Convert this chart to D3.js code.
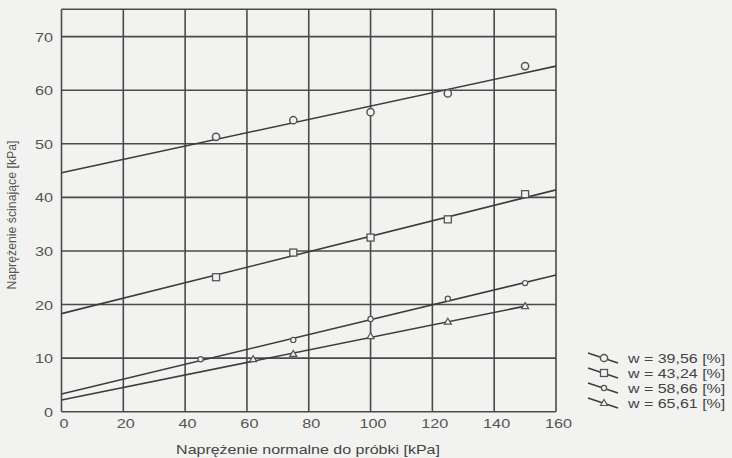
<!DOCTYPE html>
<html><head><meta charset="utf-8">
<script src="https://cdn.jsdelivr.net/npm/d3@7"></script>
<style>body{margin:0;background:#f2f2f0;}svg{display:block;}</style>
</head><body>
<svg id="c" width="732" height="458"></svg>
<script>
const xTicks = [0,20,40,60,80,100,120,140,160];
const yTicks = [0,10,20,30,40,50,60,70];
const seriesNames = ["w = 39,56 [%]","w = 43,24 [%]","w = 58,66 [%]","w = 65,61 [%]"];
const markers = ["circle","square","smallcircle","triangle"];
const s1x = [50,75,100,125,150], s1y = [51.3,54.4,55.9,59.4,64.5];
const s2x = [50,75,100,125,150], s2y = [25.1,29.7,32.5,35.9,40.6];
const s3x = [45,75,100,125,150], s3y = [9.8,13.4,17.3,21.1,24.0];
const s4x = [62,75,100,125,150], s4y = [9.8,10.8,14.1,16.8,19.7];
// fitted lines: [x0, y0, x1, y1]
const fit1 = [0,44.6,160,64.5];
const fit2 = [0,18.3,160,41.4];
const fit3 = [0,3.3,160,25.5];
const fit4 = [0,2.2,150,19.7];

const series = [
  {x:s1x,y:s1y,fit:fit1},{x:s2x,y:s2y,fit:fit2},{x:s3x,y:s3y,fit:fit3},{x:s4x,y:s4y,fit:fit4}
];
const svg = d3.select("#c");
const pLeft=61.5, pRight=556, pTop=9.3, pBottom=411.7;
const x = d3.scaleLinear().domain([0,160]).range([pLeft,pRight]);
const y = d3.scaleLinear().domain([0,75.1]).range([pBottom,pTop]);
const ink = "#4a4a4a";
const font = "'Liberation Sans', Arial, sans-serif";
const SX = 1.3; // horizontal stretch of the scanned lettering

const g = svg.append("g");
g.selectAll("line.vx").data(xTicks).enter().append("line")
  .attr("x1",d=>x(d)).attr("x2",d=>x(d)).attr("y1",pTop).attr("y2",pBottom)
  .attr("stroke",ink).attr("stroke-width",1.6);
g.selectAll("line.hy").data(yTicks.concat([75.1])).enter().append("line")
  .attr("x1",pLeft).attr("x2",pRight).attr("y1",d=>y(d)).attr("y2",d=>y(d))
  .attr("stroke",ink).attr("stroke-width",1.6);

const xa = d3.axisBottom(x).tickValues(xTicks).tickSize(0);
const gx = svg.append("g").attr("transform",`translate(0,${pBottom})`).call(xa);
gx.select(".domain").remove();
gx.selectAll("text").attr("font-family",font).attr("font-size",12.5).attr("fill","#555")
  .attr("x",1.5).attr("y",16.8).attr("dy",null).attr("transform",`scale(${SX},1)`);
const ya = d3.axisLeft(y).tickValues(yTicks).tickSize(0);
const gy = svg.append("g").attr("transform",`translate(${pLeft},0)`).call(ya);
gy.select(".domain").remove();
gy.selectAll("text").attr("font-family",font).attr("font-size",12.5).attr("fill","#555")
  .attr("x",-8.5/SX).attr("dy","0.36em").attr("transform",`scale(${SX},1)`);

svg.append("text").attr("transform","translate(308,454) scale(1.25,1)").attr("text-anchor","middle")
  .attr("font-family",font).attr("font-size",12.8).attr("fill","#444")
  .text("Naprężenie normalne do próbki [kPa]");
svg.append("text").attr("transform","translate(15.5,215) rotate(-90)").attr("text-anchor","middle")
  .attr("font-family",font).attr("font-size",12.3).attr("fill","#555")
  .text("Naprężenie ścinające [kPa]");

function drawMarker(sel, type, cx, cy){
  if(type==="circle") sel.append("circle").attr("cx",cx).attr("cy",cy).attr("r",3.6)
      .attr("fill","#f2f2f0").attr("stroke","#555").attr("stroke-width",1.5);
  else if(type==="square") sel.append("rect").attr("x",cx-3.5).attr("y",cy-3.5).attr("width",7).attr("height",7)
      .attr("fill","#f2f2f0").attr("stroke","#555").attr("stroke-width",1.3);
  else if(type==="smallcircle") sel.append("circle").attr("cx",cx).attr("cy",cy).attr("r",2.6)
      .attr("fill","#f2f2f0").attr("stroke","#555").attr("stroke-width",1.2);
  else sel.append("path").attr("d",`M${cx},${cy-3.5}L${cx+3.5},${cy+2.5}L${cx-3.5},${cy+2.5}Z`)
      .attr("fill","#f2f2f0").attr("stroke","#555").attr("stroke-width",1.2);
}

series.forEach((s,i)=>{
  const f = s.fit;
  svg.append("line").attr("x1",x(f[0])).attr("y1",y(f[1])).attr("x2",x(f[2])).attr("y2",y(f[3]))
    .attr("stroke","#3c3c3c").attr("stroke-width",1.6);
  const mg = svg.append("g");
  s.x.forEach((xv,j)=>drawMarker(mg, markers[i], x(xv), y(s.y[j])));
});

const legY = [358,373,388,403];
seriesNames.forEach((n,i)=>{
  const ly = legY[i];
  svg.append("line").attr("x1",588).attr("y1",ly-5).attr("x2",618).attr("y2",ly+5)
    .attr("stroke","#3c3c3c").attr("stroke-width",1.4);
  drawMarker(svg, markers[i], 604, ly);
  svg.append("text").attr("transform",`translate(628,${ly+4.5}) scale(${SX},1)`)
    .attr("font-family",font).attr("font-size",12.3)
    .attr("fill","#444").text(n);
});
</script>
</body></html>
